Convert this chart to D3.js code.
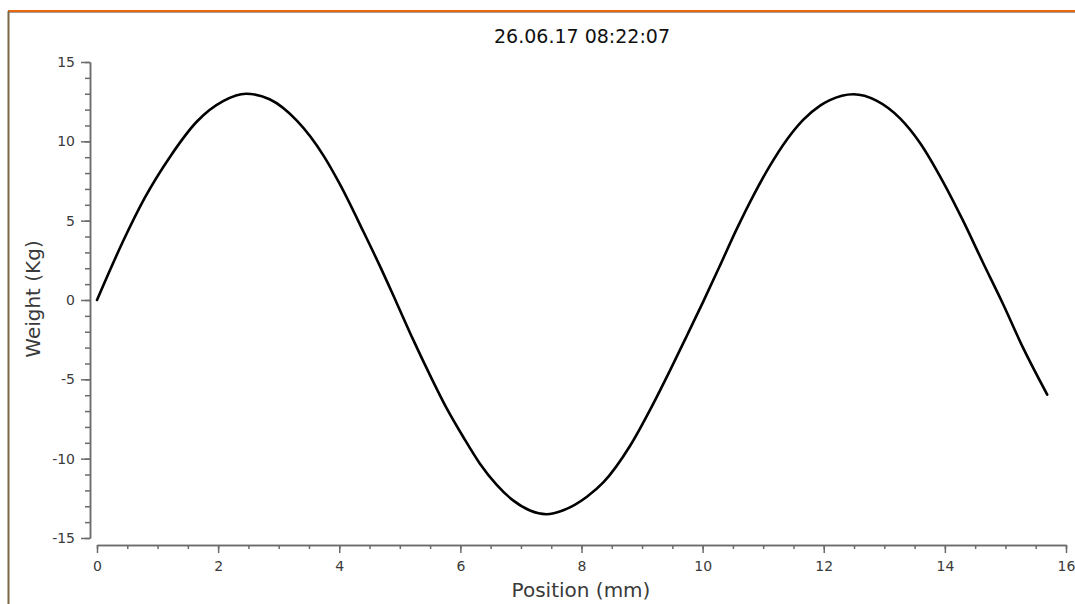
<!DOCTYPE html>
<html>
<head>
<meta charset="utf-8">
<script src="https://cdn.jsdelivr.net/npm/d3@7/dist/d3.min.js"></script>
<style>
  html, body { margin: 0; padding: 0; background: #fff; }
  svg { display: block; }
  text { font-family: "DejaVu Sans", sans-serif; }
</style>
</head>
<body>
<svg id="chart" width="1075" height="604"></svg>
<script>
// ---- data ----
const title = "26.06.17 08:22:07";
const xLabel = "Position (mm)";
const yLabel = "Weight (Kg)";

const positions = [0.00, 0.43, 0.79, 1.21, 1.65, 2.09, 2.46, 2.85, 3.30, 3.74, 4.01, 4.40, 4.67, 4.95, 5.22, 5.50, 5.77, 6.05, 6.32, 6.60, 6.87, 7.15, 7.42, 7.70, 8.09, 8.36, 8.80, 9.19, 9.46, 9.74, 10.01, 10.29, 10.56, 10.84, 11.11, 11.39, 11.66, 11.94, 12.10, 12.49, 12.87, 13.26, 13.59, 13.97, 14.30, 14.63, 14.96, 15.29, 15.69];
const weights   = [0.0, 3.7, 6.45, 9.05, 11.25, 12.55, 13.0, 12.65, 11.3, 9.1, 7.3, 4.3, 2.15, -0.2, -2.5, -4.75, -6.8, -8.65, -10.3, -11.65, -12.63, -13.27, -13.5, -13.25, -12.4, -11.5, -9.2, -6.5, -4.45, -2.25, -0.1, 2.2, 4.45, 6.6, 8.45, 10.1, 11.35, 12.25, 12.6, 12.97, 12.57, 11.45, 9.9, 7.45, 5.0, 2.35, -0.25, -3.0, -5.96];

const xMajorTicks = [0, 2, 4, 6, 8, 10, 12, 14, 16];
const yMajorTicks = [-15, -10, -5, 0, 5, 10, 15];
const xMinorStep = 0.5;
const yMinorStep = 1;

// ---- layout ----
const svg = d3.select("#chart");
const W = 1075, H = 604;

// frame lines
svg.append("line").attr("x1", 8).attr("x2", W).attr("y1", 11).attr("y2", 11)
  .attr("stroke", "#e8660c").attr("stroke-width", 2);
svg.append("line").attr("x1", 8).attr("x2", W).attr("y1", 12.5).attr("y2", 12.5)
  .attr("stroke", "#a0a0a0").attr("stroke-width", 1);
svg.append("line").attr("x1", 8.5).attr("x2", 8.5).attr("y1", 11).attr("y2", H)
  .attr("stroke", "#7b6a45").attr("stroke-width", 2);

const x = d3.scaleLinear().domain([0, 16]).range([97, 1066]);
const y = d3.scaleLinear().domain([-15, 15]).range([538, 62]);

const axisColor = "#6b6b6b";
const labelColor = "#3a3a3a";

function minorValues(lo, hi, step) {
  const out = [];
  const n = Math.round((hi - lo) / step);
  for (let i = 0; i <= n; i++) out.push(+(lo + i * step).toFixed(6));
  return out;
}

// y axis
const yAxisX = 90;
const gyMinor = svg.append("g").attr("transform", `translate(${yAxisX},0)`)
  .call(d3.axisLeft(y).tickValues(minorValues(-15, 15, yMinorStep)).tickSize(5).tickSizeOuter(0).tickFormat(""));
const gy = svg.append("g").attr("transform", `translate(${yAxisX},0)`)
  .call(d3.axisLeft(y).tickValues(yMajorTicks).tickSize(9).tickSizeOuter(0).tickPadding(6).tickFormat(d3.format("d")));

// x axis
const xAxisY = 545;
const gxMinor = svg.append("g").attr("transform", `translate(0,${xAxisY})`)
  .call(d3.axisBottom(x).tickValues(minorValues(0, 16, xMinorStep)).tickSize(4).tickSizeOuter(0).tickFormat(""));
const gx = svg.append("g").attr("transform", `translate(0,${xAxisY})`)
  .call(d3.axisBottom(x).tickValues(xMajorTicks).tickSize(8).tickSizeOuter(0).tickPadding(8).tickFormat(d3.format("d")));

[gyMinor, gy, gxMinor, gx].forEach(g => {
  g.selectAll("path.domain").attr("stroke", axisColor).attr("stroke-width", 1.5);
  g.selectAll(".tick line").attr("stroke", axisColor).attr("stroke-width", 1.5);
  g.selectAll(".tick text").attr("fill", labelColor).attr("font-size", 14)
    .attr("font-family", "DejaVu Sans, sans-serif");
});
gy.selectAll(".tick text").text(d => d < 0 ? "-" + Math.abs(d) : d);

// line
const data = positions.map((p, i) => ({ x: p, y: weights[i] }));
const line = d3.line().x(d => x(d.x)).y(d => y(d.y)).curve(d3.curveMonotoneX);
svg.append("path").datum(data).attr("d", line)
  .attr("fill", "none").attr("stroke", "#000").attr("stroke-width", 2.6)
  .attr("stroke-linejoin", "round").attr("stroke-linecap", "round");

// title & labels
svg.append("text").attr("x", 582).attr("y", 43).attr("text-anchor", "middle")
  .attr("font-size", 19).attr("fill", "#111").text(title);
svg.append("text").attr("x", 581).attr("y", 597).attr("text-anchor", "middle")
  .attr("font-size", 20).attr("fill", labelColor).text(xLabel);
svg.append("text").attr("transform", "translate(40,299) rotate(-90)").attr("text-anchor", "middle")
  .attr("font-size", 20).attr("fill", labelColor).text(yLabel);
</script>
</body>
</html>
